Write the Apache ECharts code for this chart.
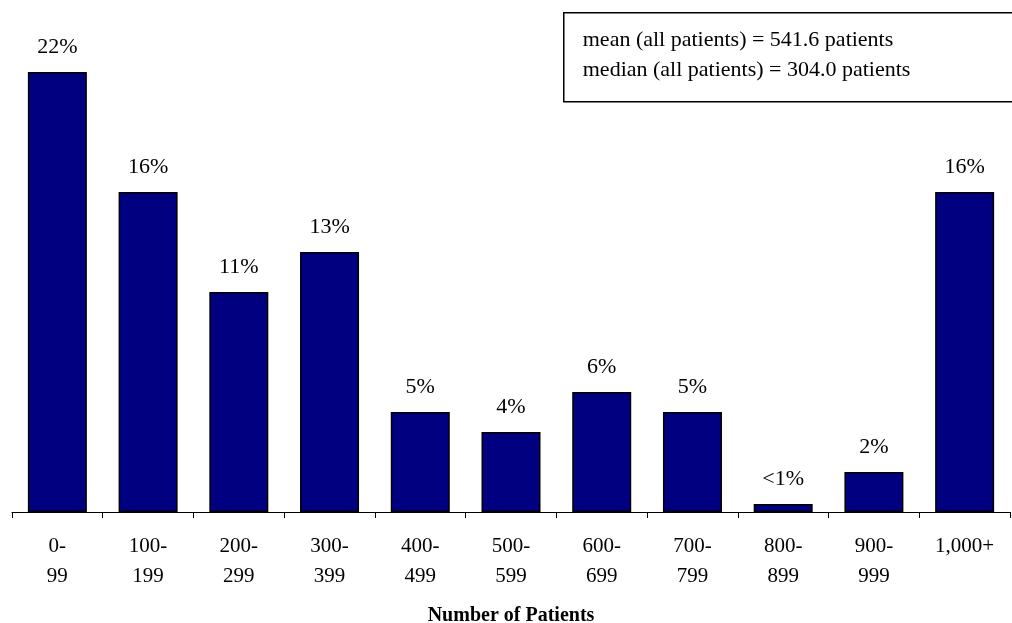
<!DOCTYPE html>
<html><head><meta charset="utf-8">
<script src="https://cdn.jsdelivr.net/npm/echarts@6/dist/echarts.min.js"></script>
<style>html,body{margin:0;padding:0;background:#fff;overflow:hidden}#c{width:1012px;height:623px}</style>
</head><body><div id="c"></div>
<script>
const categories = ['0-\n99','100-\n199','200-\n299','300-\n399','400-\n499','500-\n599','600-\n699','700-\n799','800-\n899','900-\n999','1,000+'];
const values = [22, 16, 11, 13, 5, 4, 6, 5, 0.4, 2, 16];
const valueLabels = ['22%','16%','11%','13%','5%','4%','6%','5%','<1%','2%','16%'];
const statLines = ['mean (all patients) = 541.6 patients', 'median (all patients) = 304.0 patients'];
const axisTitle = 'Number of Patients';

const font = '"Liberation Serif", "Times New Roman", serif';
const chart = echarts.init(document.getElementById('c'));
chart.setOption({
  animation: false,
  grid: {left: 12, right: 2, top: 72, bottom: 111, containLabel: false, outerBoundsMode: 'none'},
  xAxis: {
    type: 'category', data: categories,
    axisLine: {lineStyle: {color: '#000', width: 1}},
    axisTick: {show: true, length: 6, lineStyle: {color: '#000'}, alignWithLabel: false},
    axisLabel: {color: '#000', fontFamily: font, fontSize: 21, lineHeight: 30, margin: 19, interval: 0},
    name: axisTitle, nameLocation: 'middle', nameGap: 94,
    nameTextStyle: {color: '#000', fontFamily: font, fontSize: 20, fontWeight: 'bold'}
  },
  yAxis: {type: 'value', min: 0, max: 22, show: false, splitLine: {show: false}},
  series: [{
    type: 'bar', data: values, barWidth: 59,
    itemStyle: {color: '#000080', borderColor: '#000', borderWidth: 1.5},
    label: {show: true, position: 'top', distance: 14, color: '#000', fontFamily: font, fontSize: 22,
      formatter: p => valueLabels[p.dataIndex]}
  }],
  graphic: [{
    type: 'group', left: 563, top: 12,
    children: [
      {type: 'rect', shape: {x: 0, y: 0, width: 460, height: 89}, style: {fill: '#fff', stroke: '#000', lineWidth: 1.5}},
      {type: 'text', x: 19, y: 27, style: {text: statLines[0], font: '22px ' + font, fill: '#000', textVerticalAlign: 'middle'}},
      {type: 'text', x: 19, y: 57, style: {text: statLines[1], font: '22px ' + font, fill: '#000', textVerticalAlign: 'middle'}}
    ]
  }]
});
</script></body></html>
